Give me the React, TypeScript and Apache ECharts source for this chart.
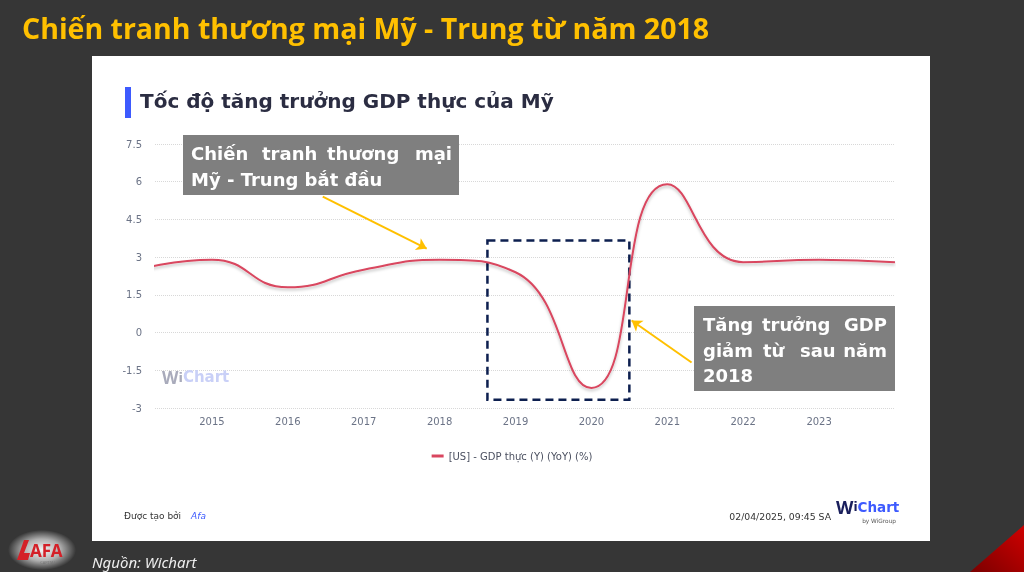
import React, { useEffect, useRef } from "react";
import * as echarts from "echarts";

// ---- data ----
const years = [2014, 2015, 2016, 2017, 2018, 2019, 2020, 2021, 2022, 2023, 2024];
const gdpYoY = [2.5, 2.9, 1.8, 2.5, 2.9, 2.4, -2.2, 5.9, 2.8, 2.9, 2.8];
const xTickLabels = [2015, 2016, 2017, 2018, 2019, 2020, 2021, 2022, 2023];
const seriesName = "[US] - GDP thực (Y) (YoY) (%)";

// annotation anchors in data coordinates
const highlightBox = [[2018.63, 3.66], [2020.5, -2.67]];
const arrowWar = [[2016.46, 5.41], [2017.83, 3.34]];
const arrowDrop = [[2021.32, -1.19], [2020.53, 0.48]];

const W = 1024;
const H = 572;

export default function App() {
  const ref = useRef<HTMLDivElement>(null);
  useEffect(() => {
    if (!ref.current) return;
    const chart = echarts.init(ref.current, undefined, { renderer: "svg", width: W, height: H });
    const dj = "'DejaVu Sans', sans-serif";
    const wordStyle = (t: string, x: number, y: number, align = "left") => ({
      type: "text",
      x,
      y,
      z: 101,
      style: {
        text: t,
        fill: "#ffffff",
        font: `bold 18px ${dj}`,
        textAlign: align,
        textVerticalAlign: "middle",
      },
    });
    const option: any = {
      animation: false,
      textStyle: { fontFamily: dj },
      graphic: [
        { type: "rect", z: -10, shape: { x: 0, y: 0, width: W, height: H }, style: { fill: "#363636" } },
        { type: "rect", z: -9, shape: { x: 92, y: 56, width: 838, height: 485 }, style: { fill: "#ffffff" } },
        {
          type: "polygon",
          z: -8,
          shape: { points: [[970, 572], [1024, 525], [1024, 572]] },
          style: {
            fill: new echarts.graphic.LinearGradient(0, 1, 1, 0, [
              { offset: 0, color: "#7a0000" },
              { offset: 1, color: "#d00000" },
            ]),
          },
        },
        {
          type: "text",
          x: 22,
          y: 28,
          style: {
            text: "Chiến tranh thương mại Mỹ - Trung từ năm 2018",
            fill: "#ffc000",
            font: `bold 28.5px 'Open Sans', 'Noto Sans', sans-serif`,
            textVerticalAlign: "middle",
          },
        },
        { type: "rect", shape: { x: 125, y: 87, width: 6, height: 31 }, style: { fill: "#3d5afe" } },
        {
          type: "text",
          x: 140,
          y: 101,
          style: {
            text: "Tốc độ tăng trưởng GDP thực của Mỹ",
            fill: "#2b2d42",
            font: `bold 20px ${dj}`,
            textVerticalAlign: "middle",
          },
        },
        // watermark
        {
          type: "text",
          x: 162,
          y: 377,
          z: 1,
          style: {
            text: "{w|W}{i|i}{c|Chart}",
            textVerticalAlign: "middle",
            rich: {
              w: { fill: "#a9abbb", font: "bold 17px 'Noto Sans', sans-serif" },
              i: { fill: "#a9abbb", font: `bold 13px ${dj}` },
              c: { fill: "#c9d0f7", font: `bold 15px ${dj}` },
            },
          },
        },
        // annotation 1
        { type: "rect", z: 100, shape: { x: 183, y: 135, width: 276, height: 60 }, style: { fill: "#7f7f7f" } },
        wordStyle("Chiến", 191, 153),
        wordStyle("tranh", 262, 153),
        wordStyle("thương", 327, 153),
        wordStyle("mại", 452, 153, "right"),
        wordStyle("Mỹ - Trung bắt đầu", 191, 179),
        // annotation 2
        { type: "rect", z: 100, shape: { x: 694, y: 306, width: 201, height: 85 }, style: { fill: "#7f7f7f" } },
        wordStyle("Tăng", 703, 324),
        wordStyle("trưởng", 762, 324),
        wordStyle("GDP", 887, 324, "right"),
        wordStyle("giảm", 703, 350),
        wordStyle("từ", 763, 350),
        wordStyle("sau", 800, 350),
        wordStyle("năm", 887, 350, "right"),
        wordStyle("2018", 703, 375),
        // footer
        {
          type: "text",
          x: 124,
          y: 516,
          style: {
            text: "{a|Được tạo bởi}{b|Afa}",
            textVerticalAlign: "middle",
            rich: {
              a: { fill: "#333333", font: `9px ${dj}`, padding: [0, 10, 0, 0] },
              b: { fill: "#3d5afe", font: `italic 9px ${dj}` },
            },
          },
        },
        {
          type: "text",
          x: 831,
          y: 516,
          style: {
            text: "02/04/2025, 09:45 SA",
            fill: "#333333",
            font: `9.3px ${dj}`,
            textAlign: "right",
            textVerticalAlign: "middle",
          },
        },
        {
          type: "text",
          x: 836,
          y: 507,
          style: {
            text: "{w|W}{i|i}{c|Chart}",
            textVerticalAlign: "middle",
            rich: {
              w: { fill: "#1a1f5c", font: "bold 18px 'Noto Sans', sans-serif", lineHeight: 16 },
              i: { fill: "#1a1f5c", font: `bold 12px ${dj}`, lineHeight: 16 },
              c: { fill: "#3d5afe", font: `bold 13.5px ${dj}`, lineHeight: 16 },
            },
          },
        },
        {
          type: "text",
          x: 896,
          y: 520.5,
          style: {
            text: "by WiGroup",
            fill: "#555555",
            font: `5.8px ${dj}`,
            textAlign: "right",
            textVerticalAlign: "middle",
          },
        },
        {
          type: "text",
          x: 92,
          y: 562,
          style: {
            text: "Nguồn: Wichart",
            fill: "#eeeeee",
            font: "italic 15px 'Noto Sans', sans-serif",
            textVerticalAlign: "middle",
          },
        },
        // AFA logo
        {
          type: "ellipse",
          shape: { cx: 42, cy: 550, rx: 34, ry: 20 },
          style: {
            fill: new echarts.graphic.RadialGradient(0.5, 0.5, 0.5, [
              { offset: 0, color: "rgba(255,255,255,0.95)" },
              { offset: 0.55, color: "rgba(255,255,255,0.6)" },
              { offset: 1, color: "rgba(255,255,255,0)" },
            ]),
          },
        },
        {
          type: "polygon",
          shape: { points: [[17, 560], [24, 540], [29, 540], [24, 553], [30, 553], [28, 560]] },
          style: { fill: "#d42028" },
        },
        {
          type: "text",
          x: 30,
          y: 550,
          style: { text: "AFA", fill: "#d42028", font: "bold 17px 'Noto Sans', sans-serif", textVerticalAlign: "middle" },
        },
        {
          type: "text",
          x: 48,
          y: 562,
          style: { text: "CAPITAL", fill: "#777777", font: "4px 'Noto Sans', sans-serif", textAlign: "center", textVerticalAlign: "middle" },
        },
      ],
      grid: { left: 155, right: W - 895, top: 144, bottom: H - 408, containLabel: false },
      legend: {
        data: [seriesName],
        top: 446,
        left: "center",
        icon: "rect",
        itemWidth: 12,
        itemHeight: 3,
        itemGap: 10,
        textStyle: { fontSize: 10, color: "#4b5060", fontFamily: dj },
      },
      xAxis: {
        type: "value",
        min: 2014.25,
        max: 2024,
        axisLine: { show: false },
        axisTick: { show: false },
        splitLine: { show: false },
        axisLabel: {
          customValues: xTickLabels,
          formatter: (v: number) => String(Math.round(v)),
          color: "#6b7386",
          fontSize: 10,
          fontFamily: dj,
          margin: 8,
        },
      },
      yAxis: {
        type: "value",
        min: -3,
        max: 7.5,
        interval: 1.5,
        axisLine: { show: false },
        axisTick: { show: false },
        axisLabel: { color: "#6b7386", fontSize: 10, fontFamily: dj, margin: 13 },
        splitLine: { lineStyle: { type: "dotted", color: "#d8d8d8", width: 1 } },
      },
      series: [
        {
          name: seriesName,
          type: "line",
          data: years.map((y, i) => [y, gdpYoY[i]]),
          smooth: 0.5,
          showSymbol: false,
          clip: true,
          color: "#d9465f",
          lineStyle: {
            width: 2,
            color: "#d9465f",
            shadowColor: "rgba(0,0,0,0.25)",
            shadowBlur: 3,
            shadowOffsetY: 2,
          },
          markArea: {
            silent: true,
            itemStyle: {
              color: "rgba(0,0,0,0)",
              borderColor: "#0d1f4f",
              borderWidth: 2.5,
              borderType: [8, 5],
            },
            data: [[{ coord: highlightBox[0] }, { coord: highlightBox[1] }]],
          },
          markLine: {
            silent: true,
            symbol: ["none", "arrow"],
            symbolSize: 10,
            label: { show: false },
            lineStyle: { color: "#ffc000", width: 2, type: "solid" },
            data: [
              [{ coord: arrowWar[0] }, { coord: arrowWar[1] }],
              [{ coord: arrowDrop[0] }, { coord: arrowDrop[1] }],
            ],
          },
        },
      ],
    };
    chart.setOption(option);
    return () => chart.dispose();
  }, []);
  return <div ref={ref} style={{ position: "fixed", left: 0, top: 0, width: W, height: H }} />;
}
